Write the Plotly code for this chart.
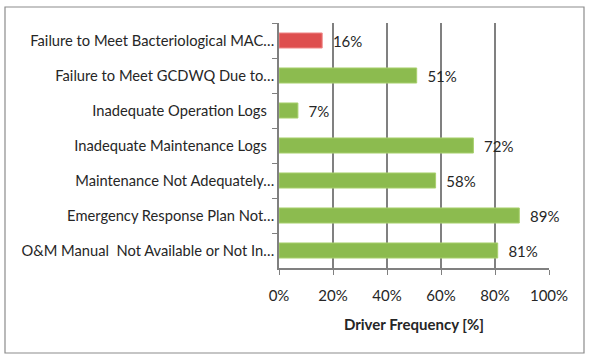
import plotly.graph_objects as go

categories = [
    "Failure to Meet Bacteriological MAC…",
    "Failure to Meet GCDWQ Due to…",
    "Inadequate Operation Logs\u00a0\u00a0",
    "Inadequate Maintenance Logs\u00a0\u00a0",
    "Maintenance Not Adequately…",
    "Emergency Response Plan Not…",
    "O&M Manual  Not Available or Not In…",
]
frequency = [16, 51, 7, 72, 58, 89, 81]
x_ticks = [0, 20, 40, 60, 80, 100]
x_tick_labels = ["0%", "20%", "40%", "60%", "80%", "100%"]
highlight_index = 0

RED = "#DE4F4F"
GREEN = "#8CBB4F"
colors = [RED if i == highlight_index else GREEN for i in range(len(categories))]
lines = ["#F08A8A" if i == highlight_index else "#A9D06E" for i in range(len(categories))]

FONT = "Lato"
TXT = "#262626"

fig = go.Figure(go.Bar(
    x=frequency,
    y=categories,
    orientation="h",
    marker=dict(color=colors, line=dict(color=lines, width=1)),
    text=[f"  {v}%" for v in frequency],
    textposition="outside",
    constraintext="none",
    textfont=dict(family=FONT, size=15, color=TXT),
    cliponaxis=False,
    width=0.43,
    hoverinfo="skip",
))

L, R, T, B = 279, 549, 23, 268
W, H = 590, 359
pw, ph = R - L, B - T

fig.update_layout(
    width=W, height=H,
    margin=dict(l=L, r=W - R, t=T, b=H - B, pad=0, autoexpand=False),
    paper_bgcolor="white",
    plot_bgcolor="white",
    showlegend=False,
    font=dict(family=FONT, size=15, color=TXT),
    xaxis=dict(
        range=[0, 100],
        tickvals=x_ticks,
        ticktext=x_tick_labels,
        showgrid=True,
        gridcolor="#808080",
        gridwidth=1.7,
        showline=True,
        linecolor="#808080",
        linewidth=1.5,
        ticks="outside",
        ticklen=5,
        tickcolor="#808080",
        ticklabelstandoff=8,
        zeroline=False,
        automargin=False,
        tickfont=dict(family=FONT, size=15, color=TXT),
        title=dict(text="<b>Driver Frequency [%]</b>", standoff=17,
                   font=dict(family=FONT, size=15, color=TXT)),
    ),
    yaxis=dict(
        autorange="reversed",
        showline=True,
        linecolor="#808080",
        linewidth=1.5,
        ticks="outside",
        tickson="boundaries",
        ticklen=5,
        tickcolor="#808080",
        showgrid=False,
        automargin=False,
        tickfont=dict(family=FONT, size=14.7, color=TXT),
    ),
    shapes=[dict(
        type="rect", xref="paper", yref="paper",
        x0=(5 - L) / pw, x1=(584 - L) / pw,
        y0=(B - 353) / ph, y1=(B - 7) / ph,
        line=dict(color="#8C8C8C", width=1.2),
        fillcolor="rgba(0,0,0,0)",
        layer="below",
    )],
)

fig.write_html("out.html", config={"displayModeBar": False},
               post_script="document.body.style.margin='0';")
